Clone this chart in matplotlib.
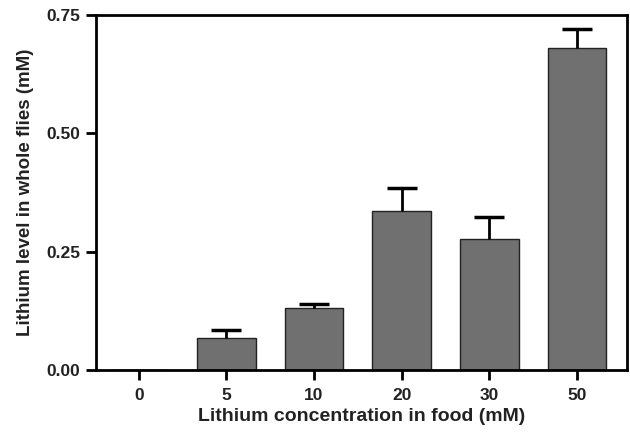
import matplotlib
matplotlib.use("Agg")
import matplotlib.pyplot as plt
import numpy as np

# Lithium in food (mM) vs lithium level in whole flies (mM)
conc_labels = ["0", "5", "10", "20", "30", "50"]
level_mean = [0.0, 0.068, 0.130, 0.336, 0.277, 0.681]
level_err = [0.0, 0.017, 0.010, 0.049, 0.047, 0.039]

plt.rcParams['font.family'] = ['Liberation Sans', 'DejaVu Sans']

fig = plt.figure(figsize=(6.3, 4.33), dpi=100)
ax = fig.add_axes([0.152, 0.146, 0.843, 0.819])

x = np.arange(len(conc_labels))
ax.bar(x, level_mean, width=0.67, color='#707070', edgecolor='#222222', linewidth=1.0, zorder=2)
_, caps, _ = ax.errorbar(x[1:], level_mean[1:], yerr=[np.zeros(len(x) - 1), level_err[1:]],
                         fmt='none', ecolor='black', elinewidth=2, capsize=11, capthick=2.5, zorder=3)
# only the upper half of the error bar is shown
caps[0].set_visible(False)

ax.set_xlim(-0.49, 5.57)
ax.set_ylim(0, 0.75)
ax.set_yticks([0, 0.25, 0.5, 0.75])
ax.set_yticklabels(["0.00", "0.25", "0.50", "0.75"])
ax.set_xticks(x)
ax.set_xticklabels(conc_labels)

for axis in ['top', 'bottom', 'left', 'right']:
    ax.spines[axis].set_linewidth(2)
    ax.spines[axis].set_color("black")

ax.tick_params(axis='both', direction='out', length=7, width=2, labelsize=12.5, pad=4)
ax.tick_params(axis='x', pad=6)
for lab in ax.get_xticklabels() + ax.get_yticklabels():
    lab.set_fontweight('bold')
    lab.set_color('#222222')

ax.set_xlabel("Lithium concentration in food (mM)", fontsize=14, fontweight='bold', color='#222222', labelpad=4)
ax.set_ylabel("Lithium level in whole flies (mM)", fontsize=13.5, fontweight='bold', color='#222222', labelpad=9)

plt.savefig('out.png', dpi=100)
